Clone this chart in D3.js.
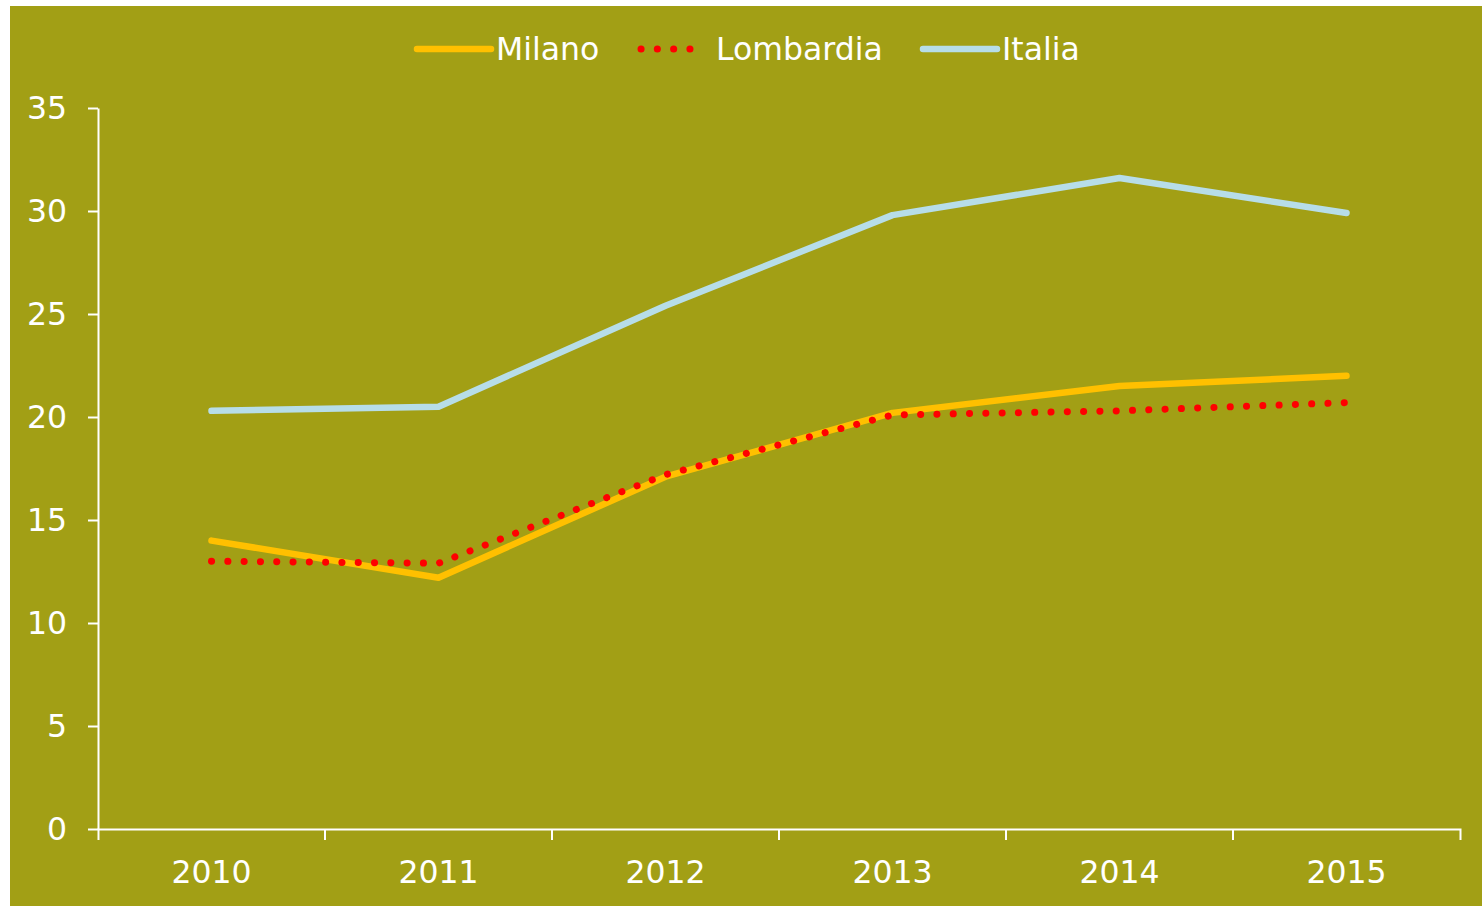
<!DOCTYPE html>
<html>
<head>
<meta charset="utf-8">
<script src="https://cdn.jsdelivr.net/npm/d3@7"></script>
<style>
  body { margin: 0; background: #fff; }
  svg text { font-family: "DejaVu Sans", Verdana, sans-serif; fill: #fff; }
</style>
</head>
<body>
<div id="chart"></div>
<script>
var years = ["2010", "2011", "2012", "2013", "2014", "2015"]
var milano = [14.0, 12.2, 17.1, 20.2, 21.5, 22.0]
var lombardia = [13.0, 12.9, 17.2, 20.1, 20.3, 20.7]
var italia = [20.3, 20.5, 25.4, 29.8, 31.6, 29.9]
var yTicks = [0, 5, 10, 15, 20, 25, 30, 35]

var seriesNames = ["Milano", "Lombardia", "Italia"]
var seriesColors = ["#FFC000", "#FF0000", "#B7DDE8"]
var seriesValues = [milano, lombardia, italia]

var width = 1482, height = 906
var fontSize = 31.5

var svg = d3.select("#chart").append("svg")
	.attr("width", width)
	.attr("height", height)
	.style("display", "block")

// olive panel
svg.append("rect")
	.attr("x", 10).attr("y", 6)
	.attr("width", width - 10).attr("height", height - 6)
	.attr("fill", "#A29F15")

var x = d3.scaleBand()
	.domain(years)
	.range([98, 1460])
	.padding(0)

var y = d3.scaleLinear()
	.domain([0, 35])
	.range([829, 108])

// y axis
var yAxis = svg.append("g")
	.attr("transform", "translate(98,0)")
	.call(d3.axisLeft(y).tickValues(yTicks).tickSize(10).tickSizeOuter(0).tickPadding(21))
yAxis.selectAll("line,path").attr("stroke", "#fff").attr("stroke-width", 2)
yAxis.selectAll("text").attr("font-size", fontSize).style("fill", "#fff")

// x axis, ticks on band edges
var xAxis = svg.append("g")
	.attr("transform", "translate(0,829)")
	.call(d3.axisBottom(x).tickSize(0).tickSizeOuter(11).tickPadding(32))
xAxis.selectAll("path").attr("stroke", "#fff").attr("stroke-width", 2)
xAxis.selectAll("text").attr("font-size", fontSize).style("fill", "#fff")
xAxis.selectAll(".edge")
	.data(years.slice(1))
	.enter().append("line")
	.attr("x1", function(d){ return x(d) })
	.attr("x2", function(d){ return x(d) })
	.attr("y1", 0).attr("y2", 11)
	.attr("stroke", "#fff").attr("stroke-width", 2)

var line = d3.line()
	.x(function(d, i){ return x(years[i]) + x.bandwidth() / 2 })
	.y(function(d){ return y(d) })

function styleSeries(sel, i){
	sel.attr("fill", "none")
		.attr("stroke", seriesColors[i])
		.attr("stroke-linecap", "round")
		.attr("stroke-linejoin", "round")
	if(i == 1){
		sel.attr("stroke-width", 7).attr("stroke-dasharray", "0.1 16.2")
	} else {
		sel.attr("stroke-width", 6.5)
	}
}

// draw series: Milano, Lombardia on top, Italia
for(var i = 0; i < seriesValues.length; i++){
	svg.append("path")
		.attr("d", line(seriesValues[i]))
		.call(styleSeries, i)
}

// legend
var legendX = [417, 641, 923]
var legendLen = [74, 65, 74]
var legend = svg.append("g")
for(var i = 0; i < seriesNames.length; i++){
	legend.append("line")
		.attr("x1", legendX[i]).attr("x2", legendX[i] + legendLen[i])
		.attr("y1", 49).attr("y2", 49)
		.call(styleSeries, i)
	legend.append("text")
		.attr("x", legendX[i] + legendLen[i] + (i == 1 ? 10 : 5))
		.attr("y", 60)
		.attr("font-size", fontSize)
		.text(seriesNames[i])
}
</script>
</body>
</html>
